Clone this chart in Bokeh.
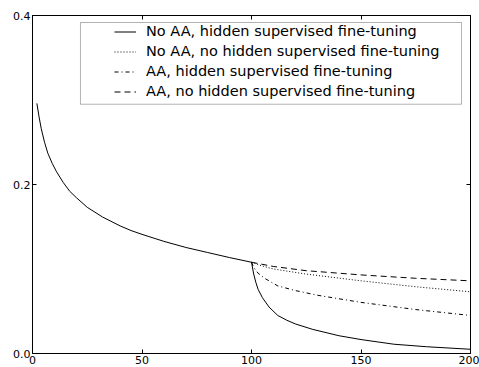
from bokeh.plotting import figure
from bokeh.models import (Range1d, FixedTicker, LinearAxis, Legend, LegendItem, BoxAnnotation,
                          CustomJSTickFormatter, CustomLabelingPolicy)
from bokeh.embed import file_html
from bokeh.resources import INLINE

# shared phase (epochs 0-100)
epochs_a = [2, 3, 4, 5.5, 7, 9, 11, 14, 17, 20, 25, 32, 40, 45, 50, 60, 70, 80, 90, 100]
vals_a = [0.296, 0.280, 0.266, 0.250, 0.237, 0.225, 0.215, 0.2025, 0.192, 0.1845, 0.173,
          0.1615, 0.151, 0.1455, 0.141, 0.1327, 0.1255, 0.1195, 0.1135, 0.108]

# after epoch 100
ep_solid = [100, 101, 102, 103, 105, 108, 112, 116, 120, 128, 140, 150, 165, 180, 200]
v_solid = [0.108, 0.094, 0.084, 0.076, 0.066, 0.055, 0.045, 0.0395, 0.035, 0.0285, 0.021, 0.0165,
           0.011, 0.008, 0.005]
ep_dotted = [100, 105, 110, 125, 150, 175, 200]
v_dotted = [0.108, 0.1035, 0.100, 0.094, 0.086, 0.079, 0.073]
ep_dashdot = [100, 101, 103, 106, 112, 120, 130, 150, 175, 200]
v_dashdot = [0.108, 0.102, 0.095, 0.089, 0.080, 0.0745, 0.069, 0.0605, 0.052, 0.045]
ep_dashed = [100, 110, 125, 150, 175, 200]
v_dashed = [0.108, 0.103, 0.098, 0.093, 0.089, 0.086]

labels = ["No AA, hidden supervised fine-tuning",
          "No AA, no hidden supervised fine-tuning",
          "AA, hidden supervised fine-tuning",
          "AA, no hidden supervised fine-tuning"]
x_ticks = [0, 50, 100, 150, 200]
y_ticks = [0.0, 0.2, 0.4]

FONT = "DejaVu Sans"

p = figure(width=479, height=367, x_range=Range1d(0, 200), y_range=Range1d(0, 0.4),
           output_backend="svg", toolbar_location=None,
           min_border_left=32, min_border_top=15, min_border_right=9, min_border_bottom=14)
p.grid.visible = False
p.outline_line_color = "black"
p.outline_line_width = 1
p.background_fill_color = "white"
p.border_fill_color = "white"

for ax in (p.xaxis[0], p.yaxis[0]):
    ax.major_tick_in = 4
    ax.major_tick_out = 0
    ax.minor_tick_line_color = None
    ax.axis_line_color = "black"
    ax.major_tick_line_color = "black"
    ax.major_label_text_font = FONT
    ax.major_label_text_font_size = "11px"
    ax.major_label_text_color = "black"
p.xaxis[0].ticker = FixedTicker(ticks=x_ticks)
p.yaxis[0].ticker = FixedTicker(ticks=y_ticks)
p.yaxis[0].formatter = CustomJSTickFormatter(code="return tick.toFixed(1);")
p.xaxis[0].major_label_standoff = 2
p.yaxis[0].major_label_standoff = 2

no_labels = CustomLabelingPolicy(code="""
    for (const i of Array.from(indices)) { indices.unset(i) }
    return indices
""")
top = LinearAxis(ticker=FixedTicker(ticks=x_ticks), major_tick_in=4, major_tick_out=0,
                 minor_tick_line_color=None, major_label_policy=no_labels,
                 major_label_text_font_size="1px",
                 major_label_standoff=0, axis_line_color="black")
right = LinearAxis(ticker=FixedTicker(ticks=y_ticks), major_tick_in=4, major_tick_out=0,
                   minor_tick_line_color=None, major_label_policy=no_labels,
                   major_label_text_font_size="1px",
                   major_label_standoff=0, axis_line_color="black")
p.add_layout(top, "above")
p.add_layout(right, "right")

r0 = p.line(epochs_a + ep_solid[1:], vals_a + v_solid[1:], line_color="black", line_width=1)
r1 = p.line(ep_dotted, v_dotted, line_color="black", line_width=1, line_dash="1 2")
r2 = p.line(ep_dashdot, v_dashdot, line_color="black", line_width=1, line_dash="4 3 1 3")
r3 = p.line(ep_dashed, v_dashed, line_color="black", line_width=1, line_dash="6 4")

box = BoxAnnotation(left=21.9, right=195.9, top=0.3917, bottom=0.2950,
                    fill_color="white", fill_alpha=1, line_color="black", line_width=1)
p.add_layout(box)

legend = Legend(items=[LegendItem(label=l, renderers=[r]) for l, r in zip(labels, [r0, r1, r2, r3])],
                location=(77, 249), padding=5, spacing=4, glyph_width=22, glyph_height=15,
                label_height=15, label_standoff=10, label_text_font=FONT,
                label_text_font_size="14.5px", label_text_color="black",
                border_line_alpha=0, background_fill_alpha=0, margin=0)
p.add_layout(legend, "center")

open("out.html", "w").write(file_html(p, INLINE))
